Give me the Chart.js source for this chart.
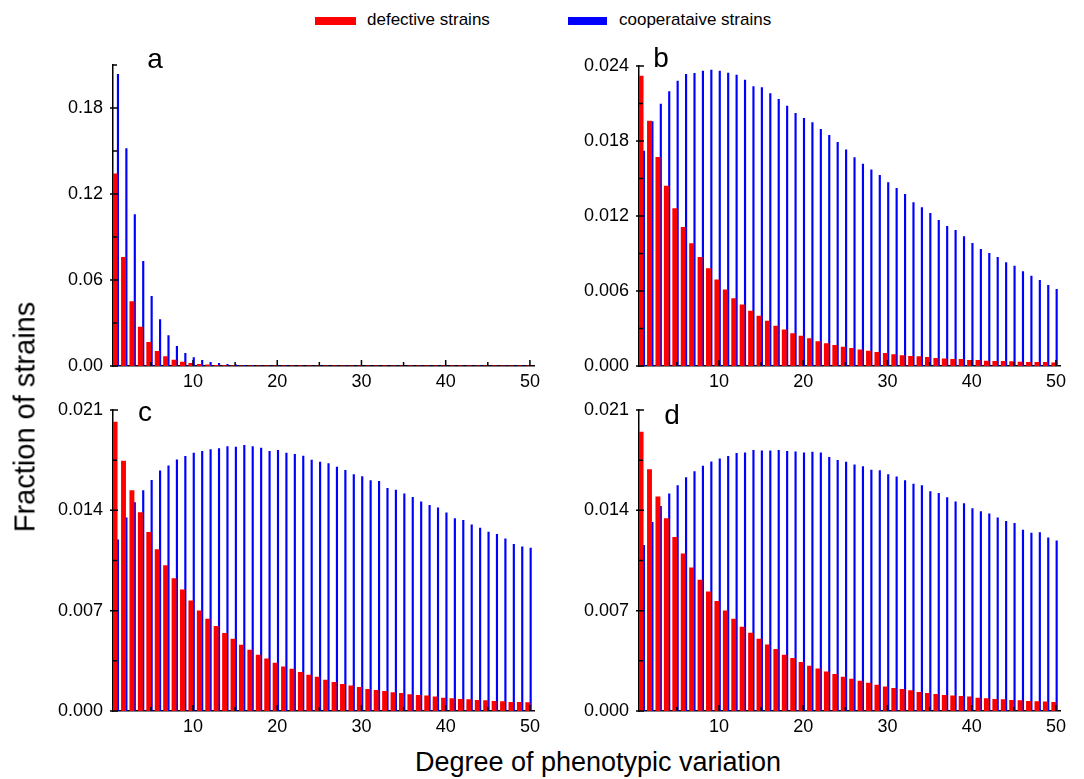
<!DOCTYPE html>
<html>
<head>
<meta charset="utf-8">
<script src="https://cdn.jsdelivr.net/npm/chart.js@4.4.1/dist/chart.umd.min.js"></script>
<style>
  body { margin: 0; width: 1084px; height: 779px; background: #fff; position: relative; overflow: hidden;
         font-family: "Liberation Sans", Arial, sans-serif; color: #000; }
  .panel { position: absolute; }
  .legend-box { position: absolute; top: 17px; height: 8px; }
  .legend-text { position: absolute; top: 11px; font-size: 17px; line-height: 1; white-space: nowrap; }
  #ytitle { position: absolute; left: 25px; top: 417px; font-size: 29px; line-height: 1; white-space: nowrap;
            transform: translate(-50%, -50%) rotate(-90deg); }
  #xtitle { position: absolute; left: 598px; top: 749px; font-size: 27px; line-height: 1; white-space: nowrap;
            transform: translateX(-50%); }
</style>
</head>
<body>
<div class="legend-box" id="boxDef" style="left:315px; width:41px;"></div>
<div class="legend-text" id="txtDef" style="left:367px;"></div>
<div class="legend-box" id="boxCoop" style="left:568px; width:39px;"></div>
<div class="legend-text" id="txtCoop" style="left:619px;"></div>

<div class="panel" style="left:0px; top:35px; width:545px; height:365px;"><canvas id="chartA"></canvas></div>
<div class="panel" style="left:526px; top:36px; width:545px; height:364px;"><canvas id="chartB"></canvas></div>
<div class="panel" style="left:0px; top:380px; width:545px; height:365px;"><canvas id="chartC"></canvas></div>
<div class="panel" style="left:526px; top:380px; width:545px; height:365px;"><canvas id="chartD"></canvas></div>

<div id="ytitle">Fraction of strains</div>
<div id="xtitle">Degree of phenotypic variation</div>

<script>
  /* ================================
     데이터
  =================================*/
  const degrees = [1,2,3,4,5,6,7,8,9,10,11,12,13,14,15,16,17,18,19,20,21,22,23,24,25,
                   26,27,28,29,30,31,32,33,34,35,36,37,38,39,40,41,42,43,44,45,46,47,48,49,50];

  const defLabel = 'defective strains';
  const coopLabel = 'cooperataive strains';

  // panel a
  const defA = [0.134, 0.0758, 0.0449, 0.0272, 0.0165, 0.0102, 0.0066, 0.0042, 0.0027, 0.0018,
                0.0012, 0.0008, 0.0005, 0.00035, 0.00025, 0.0002, 0.0002, 0.0002, 0.0002, 0.0002,
                0.0002, 0.0002, 0.0002, 0.0002, 0.0002, 0.0002, 0.0002, 0.0002, 0.0002, 0.0002,
                0.00015, 0.00015, 0.00015, 0.00015, 0.00015, 0.00015, 0.00015, 0.00015, 0.00015, 0.00015,
                0.00015, 0.00015, 0.00015, 0.00015, 0.00015, 0.00015, 0.00015, 0.00015, 0.00015, 0.00015];
  const coopA = [0.2035, 0.1517, 0.1056, 0.073, 0.0486, 0.0324, 0.0212, 0.0137, 0.0089, 0.0058,
                 0.004, 0.0026, 0.0018, 0.0012, 0.0008, 0.0005, 0.0003, 0.0002, 0.0001, 0.0001,
                 0.0001, 0.0001, 0.0001, 0.0001, 0.0001, 0.0001, 0.0001, 0.0001, 0.0001, 0.0001,
                 0.0001, 0.0001, 0.0001, 0.0001, 0.0001, 0.0001, 0.0001, 0.0001, 0.0001, 0.0001,
                 0.0001, 0.0001, 0.0001, 0.0001, 0.0001, 0.0001, 0.0001, 0.0001, 0.0001, 0.0001];

  // panel b
  const defB = [0.0232, 0.0196, 0.0167, 0.0144, 0.0126, 0.0111, 0.0098, 0.0087, 0.0078, 0.0069,
                0.0061, 0.0054, 0.0049, 0.0044, 0.004, 0.0036, 0.0032, 0.0029, 0.0026, 0.0024,
                0.0022, 0.00195, 0.0018, 0.00165, 0.00152, 0.00142, 0.0013, 0.0012, 0.0011, 0.00102,
                0.00092, 0.00083, 0.00078, 0.00075, 0.00069, 0.00061, 0.00058, 0.00053, 0.00053, 0.00045,
                0.00045, 0.0004, 0.00037, 0.00037, 0.00035, 0.00032, 0.0003, 0.0003, 0.00029, 0.00025];
  const coopB = [0.0172, 0.01955, 0.02096, 0.02195, 0.0228, 0.02333, 0.02341, 0.0236, 0.02368, 0.0236,
                 0.02344, 0.02328, 0.02288, 0.02235, 0.02227, 0.02179, 0.02133, 0.0208, 0.02021, 0.01981,
                 0.01947, 0.01893, 0.01845, 0.0179, 0.0173, 0.01667, 0.01616, 0.0157, 0.01525, 0.01467,
                 0.01421, 0.01373, 0.01307, 0.01267, 0.01221, 0.01165, 0.01117, 0.01085, 0.01035, 0.00981,
                 0.00933, 0.00901, 0.00869, 0.00827, 0.008, 0.00755, 0.0072, 0.00685, 0.00645, 0.00613];

  // panel c
  const defC = [0.02016, 0.01743, 0.01538, 0.01384, 0.01246, 0.01127, 0.01015, 0.00924, 0.00845, 0.00768,
                0.00698, 0.00642, 0.00591, 0.00542, 0.00502, 0.0046, 0.00425, 0.0039, 0.00364, 0.00334,
                0.00308, 0.00292, 0.00269, 0.0025, 0.00236, 0.00215, 0.002, 0.00186, 0.00175, 0.00166,
                0.00152, 0.00145, 0.00138, 0.00129, 0.00124, 0.00115, 0.0011, 0.00105, 0.00098, 0.00091,
                0.00087, 0.00082, 0.0008, 0.00075, 0.00073, 0.00068, 0.00066, 0.00061, 0.00061, 0.00059];
  const coopC = [0.01195, 0.01347, 0.01454, 0.01538, 0.0161, 0.01676, 0.01711, 0.01753, 0.01776, 0.01799,
                 0.01811, 0.01823, 0.0183, 0.01844, 0.01842, 0.01853, 0.01844, 0.01834, 0.01811, 0.01818,
                 0.01799, 0.0179, 0.01778, 0.0175, 0.01736, 0.01727, 0.01702, 0.01679, 0.0165, 0.01636,
                 0.01608, 0.01603, 0.01554, 0.01542, 0.01515, 0.01491, 0.01459, 0.01435, 0.01417, 0.01382,
                 0.01342, 0.0133, 0.01298, 0.01277, 0.01249, 0.01232, 0.01202, 0.01162, 0.01146, 0.01137];

  // panel d
  const defD = [0.01946, 0.01685, 0.01494, 0.01342, 0.01211, 0.01097, 0.00999, 0.00913, 0.00831, 0.00766,
                0.00698, 0.00642, 0.00586, 0.00544, 0.00502, 0.00462, 0.0043, 0.0039, 0.00367, 0.00339,
                0.00313, 0.00294, 0.00273, 0.00255, 0.00236, 0.00222, 0.00208, 0.00194, 0.0018, 0.00168,
                0.00159, 0.00152, 0.00143, 0.00131, 0.00124, 0.00117, 0.0011, 0.00105, 0.00103, 0.00098,
                0.00091, 0.00087, 0.00082, 0.0008, 0.00075, 0.00073, 0.00068, 0.00066, 0.00064, 0.00061];
  const coopD = [0.01155, 0.01316, 0.01428, 0.01515, 0.01573, 0.01629, 0.01671, 0.01708, 0.01739, 0.0176,
                 0.01776, 0.01797, 0.01801, 0.01818, 0.01816, 0.01816, 0.01818, 0.01811, 0.01808, 0.01801,
                 0.01806, 0.01801, 0.01769, 0.01748, 0.01736, 0.01718, 0.01706, 0.0168, 0.01678, 0.0165,
                 0.01633, 0.01608, 0.01584, 0.01573, 0.01531, 0.01519, 0.01489, 0.01459, 0.01447, 0.01412,
                 0.01391, 0.01375, 0.01347, 0.01323, 0.01309, 0.01263, 0.01242, 0.01244, 0.01209, 0.01188];

  // 축 눈금
  const xMajor = [10, 20, 30, 40, 50];
  const xMinor = [5, 15, 25, 35, 45];

  const yMajorA = [0, 0.06, 0.12, 0.18];
  const yLabelsA = ['0.00', '0.06', '0.12', '0.18'];
  const yMinorA = [0.03, 0.09, 0.15, 0.21];

  const yMajorB = [0, 0.006, 0.012, 0.018, 0.024];
  const yLabelsB = ['0.000', '0.006', '0.012', '0.018', '0.024'];
  const yMinorB = [0.003, 0.009, 0.015, 0.021];

  const yMajorCD = [0, 0.007, 0.014, 0.021];
  const yLabelsCD = ['0.000', '0.007', '0.014', '0.021'];
  const yMinorCD = [0.0035, 0.0105, 0.0175];

  /* ================================
     스타일
  =================================*/
  const RED = '#ff0000';
  const BLUE = '#0000ff';

  document.getElementById('boxDef').style.background = RED;
  document.getElementById('boxCoop').style.background = BLUE;
  document.getElementById('txtDef').textContent = defLabel;
  document.getElementById('txtCoop').textContent = coopLabel;

  Chart.defaults.font.family = '"Liberation Sans", Arial, sans-serif';
  Chart.defaults.font.size = 18;
  Chart.defaults.color = '#000';

  // 안쪽 눈금 + 패널 문자(a, b, c, d)
  const innerTicks = {
    id: 'innerTicks',
    afterDraw(chart, args, opts) {
      const {ctx, chartArea: a, scales: {x, y}} = chart;
      ctx.save();
      ctx.strokeStyle = '#000';
      ctx.lineWidth = 1.5;
      ctx.beginPath();
      xMajor.forEach(v => { const p = x.getPixelForValue(v); ctx.moveTo(p, a.bottom); ctx.lineTo(p, a.bottom - 6); });
      xMinor.forEach(v => { const p = x.getPixelForValue(v); ctx.moveTo(p, a.bottom); ctx.lineTo(p, a.bottom - 4); });
      opts.yMajor.forEach(v => { const p = y.getPixelForValue(v); ctx.moveTo(a.left - 3, p); ctx.lineTo(a.left + 5, p); });
      opts.yMinor.forEach(v => { const p = y.getPixelForValue(v); ctx.moveTo(a.left, p); ctx.lineTo(a.left + 4, p); });
      ctx.stroke();

      ctx.fillStyle = '#000';
      ctx.font = '28px "Liberation Sans", Arial, sans-serif';
      ctx.textAlign = 'center';
      ctx.textBaseline = 'alphabetic';
      ctx.fillText(opts.letter, a.left + opts.dx, a.top + opts.dy);
      ctx.restore();
    }
  };

  function makePanel(id, def, coop, yMax, yMajor, yLabels, yMinor, letter, dx, dy) {
    const ctx = document.getElementById(id).getContext('2d');
    return new Chart(ctx, {
      type: 'bar',
      data: {
        datasets: [
          {
            label: defLabel,
            data: degrees.map((d, i) => ({x: d, y: def[i]})),
            backgroundColor: RED,
            barThickness: 4.25
          },
          {
            label: coopLabel,
            data: degrees.map((d, i) => ({x: d, y: coop[i]})),
            backgroundColor: BLUE,
            barThickness: 1.5
          }
        ]
      },
      options: {
        responsive: true,
        maintainAspectRatio: false,
        animation: false,
        devicePixelRatio: 1,
        layout: { padding: { top: 30, right: 7, left: 0, bottom: 0 } },
        plugins: {
          legend: { display: false },
          tooltip: { enabled: false },
          innerTicks: { yMajor, yMinor, letter, dx, dy }
        },
        scales: {
          x: {
            type: 'linear',
            min: 0.5,
            max: 50.5,
            offset: false,
            grid: { display: false, drawTicks: false },
            border: { display: true, color: '#000', width: 1.5 },
            afterBuildTicks: s => { s.ticks = [...xMinor, ...xMajor].sort((p, q) => p - q).map(v => ({value: v})); },
            afterFit: s => { s.height = 34; },
            ticks: {
              autoSkip: false,
              maxRotation: 0,
              padding: 5,
              callback: v => (xMajor.includes(v) ? String(v) : '')
            }
          },
          y: {
            min: 0,
            max: yMax,
            grid: { display: false, drawTicks: false },
            border: { display: true, color: '#000', width: 1.5 },
            afterBuildTicks: s => { s.ticks = [...yMajor, ...yMinor].sort((p, q) => p - q).map(v => ({value: v})); },
            afterFit: s => { s.width = 113; },
            ticks: {
              autoSkip: false,
              padding: 10,
              callback: v => {
                const k = yMajor.findIndex(m => Math.abs(m - v) < 1e-9);
                return k >= 0 ? yLabels[k] : '';
              }
            }
          }
        }
      },
      plugins: [innerTicks]
    });
  }

  makePanel('chartA', defA, coopA, 0.21, yMajorA, yLabelsA, yMinorA, 'a', 42, 3);
  makePanel('chartB', defB, coopB, 0.024, yMajorB, yLabelsB, yMinorB, 'b', 22, 1);
  makePanel('chartC', defC, coopC, 0.021, yMajorCD, yLabelsCD, yMinorCD, 'c', 32, 11);
  makePanel('chartD', defD, coopD, 0.021, yMajorCD, yLabelsCD, yMinorCD, 'd', 33, 14);
</script>
</body>
</html>
